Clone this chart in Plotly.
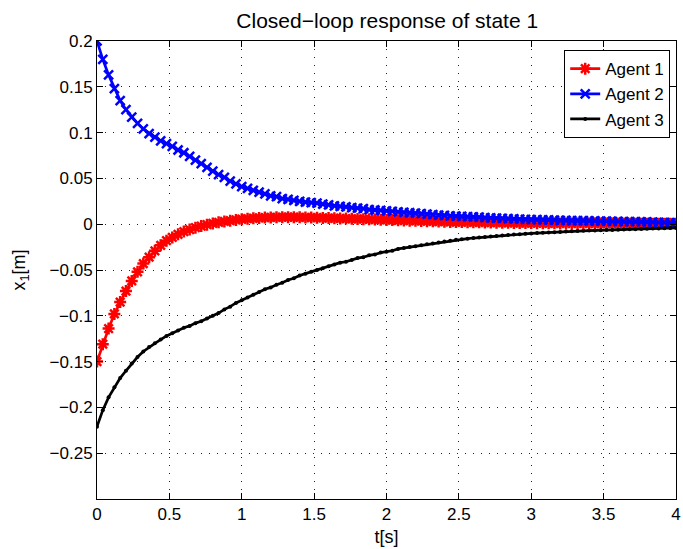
import plotly.graph_objects as go

t = [round(i * 0.04, 2) for i in range(101)]

agent1 = [
    -0.150, -0.131, -0.114, -0.098, -0.085, -0.073, -0.062, -0.052, -0.043, -0.036,
    -0.029, -0.023, -0.018, -0.0145, -0.011, -0.008, -0.0058, -0.0038, -0.002, -0.0005,
    0.0008, 0.002, 0.003, 0.0039, 0.0047, 0.0054, 0.006, 0.0065, 0.0069, 0.0072,
    0.0074, 0.0075, 0.0076, 0.0076, 0.0076, 0.0075, 0.0074, 0.0072, 0.0071, 0.0069,
    0.0067, 0.0065, 0.0063, 0.0061, 0.0059, 0.0057, 0.0055, 0.0053, 0.0051, 0.0049,
    0.0047, 0.0045, 0.0043, 0.0041, 0.0039, 0.0037, 0.0035, 0.0033, 0.0031, 0.0029,
    0.0027, 0.0025, 0.0024, 0.0023, 0.0022, 0.0021, 0.0020, 0.0019, 0.0018, 0.0017,
    0.0016, 0.0015, 0.0014, 0.0013, 0.0012, 0.0012, 0.0011, 0.0011, 0.0010, 0.0010,
    0.0009, 0.0009, 0.0009, 0.0008, 0.0008, 0.0008, 0.0007, 0.0007, 0.0007, 0.0007,
    0.0006, 0.0006, 0.0006, 0.0006, 0.0005, 0.0005, 0.0005, 0.0005, 0.0005, 0.0004,
    0.0004,
]

agent2 = [
    0.200, 0.180, 0.163, 0.148, 0.135, 0.125, 0.117, 0.110, 0.104, 0.099,
    0.095, 0.091, 0.088, 0.085, 0.081, 0.078, 0.074, 0.070, 0.066, 0.062,
    0.058, 0.054, 0.051, 0.047, 0.044, 0.041, 0.039, 0.037, 0.035, 0.033,
    0.031, 0.030, 0.028, 0.027, 0.026, 0.025, 0.024, 0.0235, 0.023, 0.022,
    0.021, 0.020, 0.0195, 0.019, 0.018, 0.0175, 0.017, 0.016, 0.0155, 0.015,
    0.0145, 0.014, 0.0135, 0.013, 0.0125, 0.012, 0.0115, 0.011, 0.0105, 0.010,
    0.0096, 0.0092, 0.0088, 0.0085, 0.0082, 0.0079, 0.0076, 0.0073, 0.0070, 0.0067,
    0.0064, 0.0061, 0.0058, 0.0056, 0.0053, 0.0051, 0.0049, 0.0047, 0.0046, 0.0044,
    0.0043, 0.0042, 0.0040, 0.0039, 0.0038, 0.0036, 0.0035, 0.0034, 0.0033, 0.0031,
    0.0030, 0.0029, 0.0028, 0.0027, 0.0025, 0.0024, 0.0022, 0.0021, 0.0019, 0.0017,
    0.0015,
]

agent3 = [
    -0.221, -0.203, -0.189, -0.178, -0.168, -0.160, -0.152, -0.145, -0.139, -0.134,
    -0.130, -0.126, -0.122, -0.119, -0.116, -0.113, -0.111, -0.108, -0.106, -0.103,
    -0.100, -0.097, -0.093, -0.090, -0.086, -0.083, -0.080, -0.077, -0.074, -0.071,
    -0.069, -0.066, -0.064, -0.061, -0.059, -0.056, -0.054, -0.052, -0.050, -0.048,
    -0.046, -0.044, -0.042, -0.041, -0.039, -0.037, -0.036, -0.034, -0.033, -0.031,
    -0.030, -0.029, -0.027, -0.026, -0.025, -0.024, -0.023, -0.022, -0.021, -0.020,
    -0.019, -0.018, -0.017, -0.0165, -0.0158, -0.0151, -0.0145, -0.0139, -0.0133, -0.0128,
    -0.0123, -0.0118, -0.0113, -0.0109, -0.0105, -0.0101, -0.0097, -0.0093, -0.0090, -0.0087,
    -0.0084, -0.0081, -0.0078, -0.0075, -0.0072, -0.0070, -0.0068, -0.0066, -0.0064, -0.0062,
    -0.0060, -0.0058, -0.0056, -0.0054, -0.0052, -0.0050, -0.0048, -0.0046, -0.0044, -0.0042,
    -0.0040,
]

y_tickvals = [0.2, 0.15, 0.1, 0.05, 0, -0.05, -0.1, -0.15, -0.2, -0.25]
y_ticktext = ["0.2", "0.15", "0.1", "0.05", "0", "\u22120.05", "\u22120.1",
              "\u22120.15", "\u22120.2", "\u22120.25"]
x_tickvals = [0, 0.5, 1, 1.5, 2, 2.5, 3, 3.5, 4]
x_ticktext = ["0", "0.5", "1", "1.5", "2", "2.5", "3", "3.5", "4"]

FONT = "Liberation Sans, Arial, Helvetica, sans-serif"

fig = go.Figure()
fig.add_trace(go.Scatter(
    x=t, y=agent1, name="Agent 1", mode="lines+markers",
    line=dict(color="#ff0000", width=2.7),
    marker=dict(symbol="asterisk-open", size=10, color="#ff0000",
                line=dict(color="#ff0000", width=2.5)),
))
fig.add_trace(go.Scatter(
    x=t, y=agent2, name="Agent 2", mode="lines+markers",
    line=dict(color="#0000ff", width=2.7),
    marker=dict(symbol="x-thin-open", size=9, color="#0000ff",
                line=dict(color="#0000ff", width=2.5)),
))
fig.add_trace(go.Scatter(
    x=t, y=agent3, name="Agent 3", mode="lines+markers",
    line=dict(color="#000000", width=2.7),
    marker=dict(symbol="circle", size=4, color="#000000"),
))

axis_common = dict(
    showline=True, linecolor="black", linewidth=1, mirror="allticks",
    ticks="inside", ticklen=6, tickcolor="black", tickwidth=1,
    showgrid=True, gridcolor="#222222", gridwidth=1, griddash="1px,7px",
    zeroline=False, tickfont=dict(family=FONT, size=17, color="black"),
    ticklabeloverflow="allow",
)

fig.update_layout(
    width=683, height=549,
    margin=dict(l=97, r=2, t=41, b=50),
    paper_bgcolor="white", plot_bgcolor="white",
    font=dict(family=FONT, size=17, color="black"),
    title=dict(text="Closed\u2212loop response of state 1", x=0.567, xanchor="center",
               y=0.963, yanchor="middle", font=dict(family=FONT, size=21, color="black")),
    xaxis=dict(range=[0, 4], tickvals=x_tickvals, ticktext=x_ticktext,
               title=dict(text="t[s]", standoff=6, font=dict(family=FONT, size=18)),
               **axis_common),
    yaxis=dict(range=[-0.3, 0.2], tickvals=y_tickvals, ticktext=y_ticktext,
               title=dict(text="x<sub>1</sub>[m]", standoff=19, font=dict(family=FONT, size=18)),
               **axis_common),
    legend=dict(x=0.99, xanchor="right", y=0.98, yanchor="top",
                bgcolor="white", bordercolor="black", borderwidth=1,
                font=dict(family=FONT, size=17, color="black"),
                tracegroupgap=0),
    showlegend=True,
)

fig.write_html("out.html")
